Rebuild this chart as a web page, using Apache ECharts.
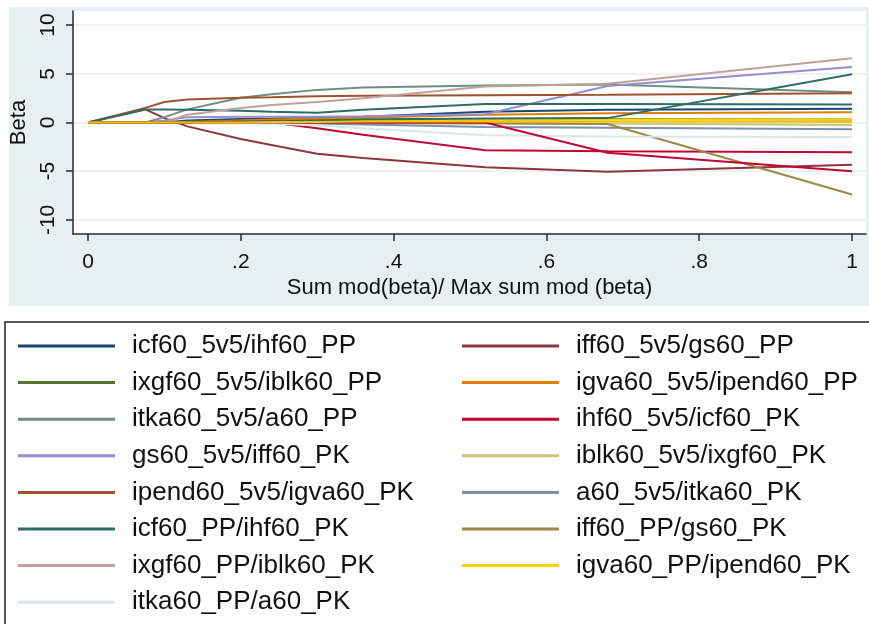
<!DOCTYPE html>
<html>
<head>
<meta charset="utf-8">
<script src="https://cdn.jsdelivr.net/npm/echarts@6/dist/echarts.min.js"></script>
<style>
html,body{margin:0;padding:0;background:#fff;}
#chart{width:869px;height:624px;}
</style>
</head>
<body>
<div id="chart"></div>
<script>
// Shared x knots (Sum mod(beta)/ Max sum mod (beta))
const xKnots = [0, 0.075, 0.1, 0.13, 0.2, 0.24, 0.3, 0.36, 0.52, 0.68, 1];

// Series names (legend order, Stata row-first, 2 columns)
const seriesNames = [
  "icf60_5v5/ihf60_PP", "iff60_5v5/gs60_PP",
  "ixgf60_5v5/iblk60_PP", "igva60_5v5/ipend60_PP",
  "itka60_5v5/a60_PP", "ihf60_5v5/icf60_PK",
  "gs60_5v5/iff60_PK", "iblk60_5v5/ixgf60_PK",
  "ipend60_5v5/igva60_PK", "a60_5v5/itka60_PK",
  "icf60_PP/ihf60_PK", "iff60_PP/gs60_PK",
  "ixgf60_PP/iblk60_PK", "igva60_PP/ipend60_PK",
  "itka60_PP/a60_PK"
];
const seriesColors = [
  "#1a476f", "#90353b", "#55752f", "#e37e00", "#6e8e84", "#c10534",
  "#938dd2", "#cac27e", "#a0522d", "#7b92a8", "#2d6d66", "#9c8847",
  "#bfa19c", "#ffd200", "#d9e6eb"
];

// Beta values at each knot
const b_icf60_5v5_ihf60_PP    = [0, 0, 0, 0.2, 0.35, 0.4, 0.5, 0.6, 1.1, 1.3, 1.4];
const b_iff60_5v5_gs60_PP     = [0, 1.35, 0.45, -0.4, -1.7, -2.3, -3.2, -3.65, -4.6, -5.05, -4.35];
const b_ixgf60_5v5_iblk60_PP  = [0, 0, 0, 0.1, 0.2, 0.25, 0.3, 0.3, 0.35, 0.35, 0.3];
const b_igva60_5v5_ipend60_PP = [0, 0, 0, 0, 0.2, 0.3, 0.4, 0.5, 0.8, 0.95, 1.05];
const b_itka60_5v5_a60_PP     = [0, 0, 0.55, 1.35, 2.55, 2.9, 3.35, 3.6, 3.8, 3.9, 3.1];
const b_ihf60_5v5_icf60_PK    = [0, 0, 0, 0, 0, 0, -0.6, -1.25, -2.85, -2.95, -3.05];
const b_gs60_5v5_iff60_PK     = [0, 0, 0.2, 0.55, 0.6, 0.6, 0.6, 0.65, 0.85, 3.75, 5.7];
const b_iblk60_5v5_ixgf60_PK  = [0, 0, 0, 0, 0, 0.05, 0.1, 0.1, 0, -0.1, -0.25];
const b_ipend60_5v5_igva60_PK = [0, 1.5, 2.1, 2.35, 2.55, 2.6, 2.7, 2.75, 2.8, 2.85, 3.0];
const b_a60_5v5_itka60_PK     = [0, 0, 0, 0, 0, 0, -0.1, -0.2, -0.45, -0.55, -0.7];
const b_icf60_PP_ihf60_PK     = [0, 1.33, 1.33, 1.3, 1.2, 1.1, 1.0, 1.3, 1.9, 1.9, 1.85];
const b_iff60_PP_gs60_PK      = [0, 0, 0, 0, 0, 0, 0, -0.05, -0.1, -0.15, -7.4];
const b_ixgf60_PP_iblk60_PK   = [0, 0, 0, 0.8, 1.5, 1.8, 2.1, 2.5, 3.7, 3.97, 6.6];
const b_igva60_PP_ipend60_PK  = [0, 0, 0, 0, 0.05, 0.1, 0.15, 0.2, 0.25, 0.3, 0.3];
const b_itka60_PP_a60_PK      = [0, 0, 0, 0, 0, -0.1, -0.3, -0.6, -1.3, -1.45, -1.5];
// further paths drawn in the plot but not listed in the legend
const b_extra_emerald         = [0, 0, 0, 0, 0.1, 0.15, 0.2, 0.3, 0.4, 0.45, 4.95];
const b_extra_cranberry       = [0, 0, 0, 0, 0, 0, 0, 0, 0, -3.1, -5.0];
const b_extra_gold            = [0, 0, 0, 0, 0, 0.05, 0.05, 0.1, 0.1, 0.1, 0.05];

const seriesValues = [
  b_icf60_5v5_ihf60_PP, b_iff60_5v5_gs60_PP, b_ixgf60_5v5_iblk60_PP,
  b_igva60_5v5_ipend60_PP, b_itka60_5v5_a60_PP, b_ihf60_5v5_icf60_PK,
  b_gs60_5v5_iff60_PK, b_iblk60_5v5_ixgf60_PK, b_ipend60_5v5_igva60_PK,
  b_a60_5v5_itka60_PK, b_icf60_PP_ihf60_PK, b_iff60_PP_gs60_PK,
  b_ixgf60_PP_iblk60_PK, b_igva60_PP_ipend60_PK, b_itka60_PP_a60_PK
];
const extraValues = [b_extra_emerald, b_extra_cranberry, b_extra_gold];
const extraColors = ["#2d6d66", "#c10534", "#f2c400"];

const xTicks = [0, 0.2, 0.4, 0.6, 0.8, 1];
const xTickLabels = ["0", ".2", ".4", ".6", ".8", "1"];
const yTicks = [-10, -5, 0, 5, 10];

const FONT = '"Liberation Sans", Arial, sans-serif';
const chart = echarts.init(document.getElementById('chart'), null, {renderer: 'canvas'});

function mk(name, vals, color) {
  return {
    type: 'line', name: name, data: xKnots.map((x, i) => [x, vals[i]]),
    showSymbol: false, symbol: 'none', silent: true,
    lineStyle: {width: 2, color: color}, itemStyle: {color: color},
    emphasis: {disabled: true}
  };
}
const series = seriesNames.map((n, i) => mk(n, seriesValues[i], seriesColors[i]));
extraValues.forEach((v, i) => series.push(mk('extra' + i, v, extraColors[i])));

const leftNames = seriesNames.filter((n, i) => i % 2 === 0);
const rightNames = seriesNames.filter((n, i) => i % 2 === 1);
function legendCfg(names, left) {
  return {
    data: names, left: left, top: 331, height: 360, padding: 0, orient: 'vertical',
    icon: 'rect', itemWidth: 97, itemHeight: 3, itemGap: 6.6,
    selectedMode: false,
    textStyle: {fontFamily: FONT, fontSize: 26, lineHeight: 30, color: '#111', padding: [0, 0, 0, 12]}
  };
}

const axisColor = '#2a2a2a';
chart.setOption({
  animation: false,
  backgroundColor: '#ffffff',
  graphic: [
    {type: 'rect', z: -10, shape: {x: 9, y: 7, width: 870, height: 299}, style: {fill: '#e8eff2'}},
    {type: 'rect', z: -10, shape: {x: 5, y: 322, width: 900, height: 400}, style: {fill: '#ffffff', stroke: '#222', lineWidth: 1.5}}
  ],
  grid: {left: 73, right: 3, top: 11, bottom: 390, show: true, backgroundColor: '#ffffff', borderWidth: 0},
  xAxis: {
    type: 'value', min: -0.01963, max: 1.01832,
    name: 'Sum mod(beta)/ Max sum mod (beta)', nameLocation: 'middle', nameGap: 43,
    nameTextStyle: {fontFamily: FONT, fontSize: 22, color: '#111'},
    axisLine: {show: true, onZero: false, lineStyle: {color: axisColor, width: 1.5}},
    axisTick: {show: true, length: 7, customValues: xTicks, lineStyle: {color: axisColor, width: 1.5}},
    axisLabel: {customValues: xTicks, margin: 18, fontFamily: FONT, fontSize: 21, color: '#111',
      formatter: v => xTickLabels[xTicks.findIndex(t => Math.abs(t - v) < 1e-6)]},
    splitLine: {show: false}
  },
  yAxis: {
    type: 'value', min: -11.45, max: 11.45,
    name: 'Beta', nameLocation: 'middle', nameGap: 42, nameRotate: 90,
    nameTextStyle: {fontFamily: FONT, fontSize: 22, color: '#111'},
    axisLine: {show: true, onZero: false, lineStyle: {color: axisColor, width: 1.5}},
    axisTick: {show: true, length: 7, customValues: yTicks, lineStyle: {color: axisColor, width: 1.5}},
    axisLabel: {customValues: yTicks, rotate: 90, margin: 14, fontFamily: FONT, fontSize: 21, color: '#111'},
    splitLine: {show: true, lineStyle: {color: '#e6eef1', width: 1.5}}
  },
  legend: [legendCfg(leftNames, 18), legendCfg(rightNames, 462)],
  series: series
});
</script>
</body>
</html>
